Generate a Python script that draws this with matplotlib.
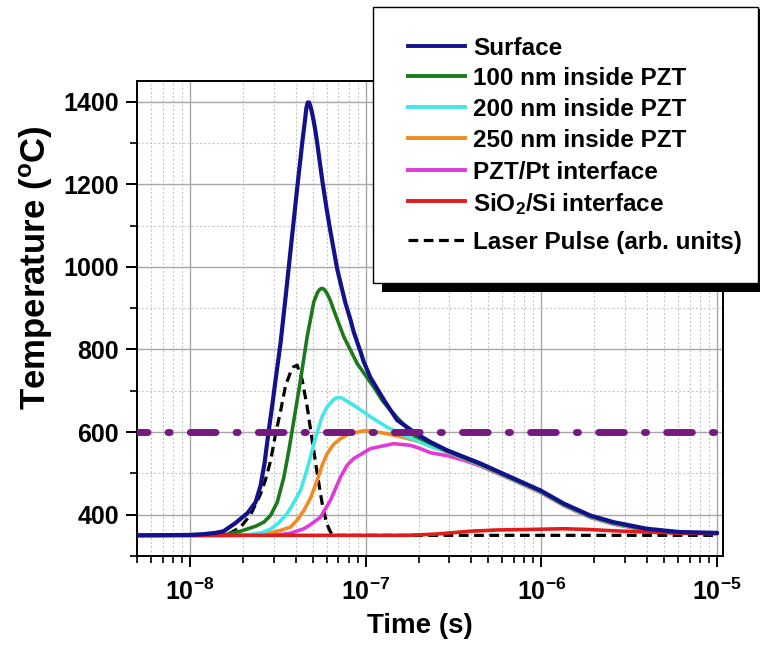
import numpy as np
import matplotlib
matplotlib.use('Agg')
import matplotlib.pyplot as plt
from matplotlib.lines import Line2D
from matplotlib.patches import Rectangle
from matplotlib.ticker import LogLocator, MultipleLocator, FuncFormatter, NullFormatter

plt.rcParams['font.family'] = ['Liberation Sans', 'DejaVu Sans']
plt.rcParams['font.weight'] = 'bold'
plt.rcParams['mathtext.fontset'] = 'custom'
plt.rcParams['mathtext.rm'] = 'Liberation Sans:bold'
plt.rcParams['mathtext.bf'] = 'Liberation Sans:bold'
plt.rcParams['mathtext.it'] = 'Liberation Sans:bold'
plt.rcParams['lines.scale_dashes'] = False

# ---------------- data (time in s, temperature in degC) ----------------
surface_t = [5e-9, 1.0e-8, 1.2e-8, 1.4e-8, 1.555e-8, 1.819e-8, 2.128e-8, 2.363e-8, 2.523e-8,
             2.659e-8, 2.802e-8, 2.953e-8, 3.071e-8, 3.278e-8, 3.500e-8, 3.760e-8, 4.041e-8,
             4.355e-8, 4.517e-8, 4.60e-8, 4.686e-8, 4.77e-8, 4.855e-8, 4.96e-8, 5.069e-8,
             5.183e-8, 5.300e-8, 5.659e-8, 6.0e-8, 6.308e-8, 6.887e-8, 7.3e-8, 7.677e-8,
             8.196e-8, 8.559e-8, 9.342e-8, 9.755e-8, 1.065e-7, 1.163e-7, 1.214e-7, 1.296e-7,
             1.511e-7, 1.96e-7, 2.335e-7, 2.906e-7, 4.494e-7, 6.37e-7, 9.86e-7, 1.34e-6,
             1.9e-6, 2.57e-6, 3.98e-6, 6.1e-6, 1.0e-5]
surface_T = [350, 351, 353, 356, 360, 380, 404, 430, 470,
             525, 600, 670, 726, 815, 925, 1050, 1175,
             1300, 1355, 1385, 1398, 1398, 1388, 1372, 1352,
             1328, 1300, 1211, 1140, 1085, 995, 950, 912,
             872, 842, 795, 770, 732, 705, 692, 672,
             629, 595, 576, 556, 524, 495, 459, 427,
             398, 382, 366, 358, 356]

pzt100_t = [5e-9, 1.2e-8, 1.6e-8, 1.942e-8, 2.363e-8, 2.635e-8, 2.876e-8, 3.140e-8, 3.422e-8,
            3.654e-8, 3.822e-8, 4.078e-8, 4.258e-8, 4.649e-8, 5.069e-8, 5.321e-8, 5.50e-8,
            5.659e-8, 5.82e-8, 5.986e-8, 6.308e-8, 6.587e-8, 7.508e-8, 8.949e-8, 1.112e-7,
            1.241e-7, 1.384e-7, 1.877e-7, 2.906e-7, 4.494e-7, 6.37e-7, 9.86e-7, 1.34e-6,
            1.9e-6, 2.57e-6, 3.98e-6, 6.1e-6, 1.0e-5]
pzt100_T = [350, 350, 352, 360, 372, 382, 398, 430, 490,
            555, 605, 677, 726, 831, 915, 938, 946,
            948, 945, 938, 918, 895, 831, 766, 709,
            677, 653, 592, 554, 522, 493, 457, 425,
            396, 380, 364, 357, 355]

pzt200_t = [5e-9, 1.5e-8, 2.214e-8, 2.590e-8, 2.876e-8, 3.194e-8, 3.579e-8, 3.885e-8, 4.258e-8,
            4.547e-8, 4.855e-8, 5.116e-8, 5.412e-8, 5.681e-8, 6.041e-8, 6.477e-8, 6.75e-8,
            7.033e-8, 7.35e-8, 7.677e-8, 8.559e-8, 1.065e-7, 1.325e-7, 1.647e-7, 2.049e-7,
            2.335e-7, 2.906e-7, 4.494e-7, 6.37e-7, 9.86e-7, 1.34e-6, 1.9e-6, 2.57e-6,
            3.98e-6, 6.1e-6, 1.0e-5]
pzt200_T = [350, 350, 352, 357, 365, 380, 403, 428, 459,
            497, 540, 578, 612, 640, 661, 676, 682,
            684, 682, 677, 665, 637, 612, 592, 576,
            565, 553, 521, 492, 456, 424, 395, 379,
            364, 357, 355]

pzt250_t = [5e-9, 1.5e-8, 2.214e-8, 2.590e-8, 2.876e-8, 3.278e-8, 3.736e-8, 4.095e-8, 4.447e-8,
            4.855e-8, 5.300e-8, 5.659e-8, 6.041e-8, 6.561e-8, 7.190e-8, 7.984e-8, 8.949e-8,
            9.755e-8, 1.065e-7, 1.325e-7, 1.647e-7, 2.049e-7, 2.335e-7, 2.906e-7, 4.494e-7,
            6.37e-7, 9.86e-7, 1.34e-6, 1.9e-6, 2.57e-6, 3.98e-6, 6.1e-6, 1.0e-5]
pzt250_T = [350, 350, 351, 353, 356, 362, 370, 388, 410,
            440, 483, 520, 548, 570, 584, 595, 600,
            603, 603, 596, 587, 576, 566, 552, 520,
            491, 455, 423, 394, 378, 363, 357, 355]

ptint_t = [5e-9, 2.0e-8, 3.278e-8, 3.736e-8, 4.447e-8, 4.855e-8, 5.534e-8, 6.308e-8, 7.190e-8,
           7.850e-8, 8.559e-8, 1.065e-7, 1.445e-7, 1.798e-7, 2.049e-7, 2.335e-7, 2.906e-7,
           3.613e-7, 4.494e-7, 6.37e-7, 9.86e-7, 1.34e-6, 1.9e-6, 2.57e-6, 3.98e-6, 6.1e-6, 1.0e-5]
ptint_T = [350, 350, 352, 355, 366, 376, 394, 435, 491,
           520, 536, 560, 572, 568, 560, 550, 543,
           532, 518, 490, 454, 422, 393, 377, 362, 356, 355]

sio2_t = [5e-9, 1.72e-7, 2.5e-7, 3.94e-7, 5.6e-7, 8.0e-7, 1.34e-6, 1.9e-6, 2.57e-6, 3.98e-6, 6.1e-6, 1.0e-5]
sio2_T = [350, 350, 353, 360, 363, 364, 366, 364, 361, 358, 355, 354]

laser_t = [5e-9, 1.4e-8, 1.555e-8, 1.704e-8, 1.942e-8, 2.214e-8, 2.523e-8, 2.694e-8, 2.876e-8,
           3.071e-8, 3.278e-8, 3.500e-8, 3.736e-8, 3.885e-8, 4.078e-8, 4.203e-8, 4.355e-8,
           4.649e-8, 4.964e-8, 5.300e-8, 5.659e-8, 5.986e-8, 6.308e-8, 6.561e-8, 1.0e-5]
laser_T = [350, 350, 352, 356, 370, 400, 450, 485, 530,
           595, 650, 712, 745, 758, 762, 745, 726,
           661, 580, 500, 427, 380, 358, 350, 350]

threshold = 600

labels = ['Surface', '100 nm inside PZT', '200 nm inside PZT', '250 nm inside PZT',
          'PZT/Pt interface', r'SiO$_2$/Si interface', 'Laser Pulse (arb. units)']
colors = ['#12128a', '#1c7a1c', '#44e6e6', '#f08c26', '#e03ad8', '#e01c1c', 'black']

# ---------------- figure ----------------
W, H = 760, 653
fig = plt.figure(figsize=(W / 100, H / 100), dpi=100)
ax = fig.add_axes([137 / W, 97 / H, 586 / W, 475 / H])
ax.set_xscale('log')
ax.set_xlim(5e-9, 1.08e-5)
ax.set_ylim(300, 1450)

ax.set_axisbelow(True)
ax.grid(which='major', color='#a8a8a8', lw=1.0, ls='-')
ax.grid(which='minor', color='#c6c6c6', lw=0.8, ls=(0, (1.5, 1.5)))

series = [(laser_t, laser_T), (ptint_t, ptint_T), (pzt250_t, pzt250_T), (pzt200_t, pzt200_T),
          (pzt100_t, pzt100_T), (sio2_t, sio2_T), (surface_t, surface_T)]
idx = [6, 4, 3, 2, 1, 5, 0]
for z, ((t, T), i) in enumerate(zip(series, idx)):
    if i == 6:
        ax.plot(t, T, color=colors[i], lw=2.3, ls=(0, (7, 4)), zorder=2 + z)
    else:
        ax.plot(t, T, color=colors[i], lw=3.0 if i == 0 else 2.6, zorder=2 + z,
                solid_joinstyle='round', solid_capstyle='round')

thr = ax.axhline(threshold, color='#761a80', lw=5.0, ls=(11.0, (18.5, 14.5, 1.5, 14.5)), zorder=10)
thr.set_dash_capstyle('round')

ax.yaxis.set_major_locator(MultipleLocator(200))
ax.yaxis.set_minor_locator(MultipleLocator(100))
ax.xaxis.set_major_locator(LogLocator(base=10, numticks=10))
ax.xaxis.set_minor_locator(LogLocator(base=10, subs=np.arange(2, 10), numticks=20))
ax.xaxis.set_major_formatter(FuncFormatter(lambda v, p: r'$\mathbf{10^{%d}}$' % int(round(np.log10(v)))))
ax.xaxis.set_minor_formatter(NullFormatter())

ax.tick_params(axis='y', which='major', direction='out', length=8, width=1.4, labelsize=18,
               right=False, pad=5)
ax.tick_params(axis='x', which='major', direction='out', length=8, width=1.4, labelsize=18,
               top=False, pad=8)
ax.tick_params(which='minor', direction='out', length=5, width=1.2, top=False, right=False)
for s in ax.spines.values():
    s.set_linewidth(1.4)

ax.set_xlabel('Time (s)', fontsize=20, fontweight='bold')
ax.xaxis.set_label_coords((420 - 137) / 586, (556 - 613) / 475)
ax.set_ylabel(r'Temperature ($^\mathrm{o}$C)', fontsize=25, fontweight='bold', va='center')
ax.yaxis.set_label_coords((36 - 137) / 586, (556 - 268) / 475)

# ---------------- legend (framed box with shadow) ----------------
def fx(x):
    return x / W

def fy(y):
    return 1 - y / H

fig.add_artist(Rectangle((fx(382), fy(292)), fx(768) - fx(382), fy(9) - fy(292),
                         transform=fig.transFigure, facecolor='black', edgecolor='none', zorder=20))
fig.add_artist(Rectangle((fx(373), fy(283)), fx(758) - fx(373), fy(7) - fy(283),
                         transform=fig.transFigure, facecolor='white', edgecolor='black',
                         lw=1.0, zorder=21))
rows = [46, 76, 107, 138, 170, 201, 240]
for lab, col, y in zip(labels, colors, rows):
    if col == 'black':
        ln = Line2D([fx(408), fx(465)], [fy(y), fy(y)], transform=fig.transFigure,
                    color=col, lw=2.3, ls=(0, (7, 4)), zorder=22)
    else:
        ln = Line2D([fx(408), fx(465)], [fy(y), fy(y)], transform=fig.transFigure,
                    color=col, lw=2.8, zorder=22)
    fig.add_artist(ln)
    fig.text(fx(473), fy(y), lab, fontsize=17.5, fontweight='bold', ha='left', va='center_baseline',
             zorder=23)

fig.savefig('out.png', dpi=100)
